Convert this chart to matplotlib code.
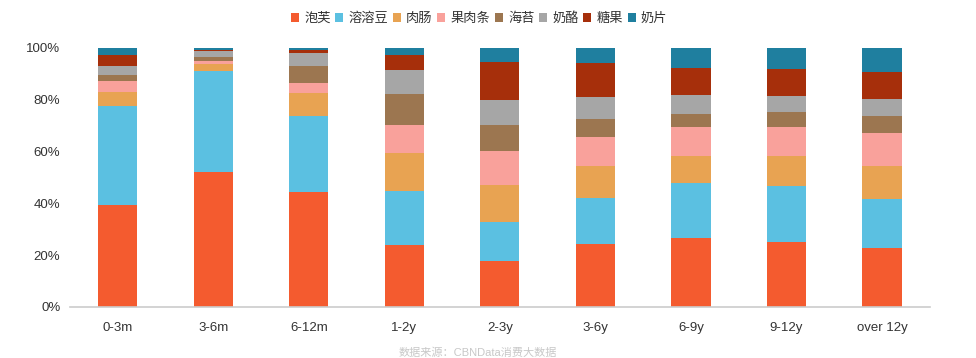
import matplotlib
matplotlib.use("Agg")
import matplotlib.pyplot as plt
import numpy as np

plt.rcParams['font.family'] = ['Liberation Sans', 'Noto Sans CJK SC', 'DejaVu Sans']

categories = ["0-3m", "3-6m", "6-12m", "1-2y", "2-3y", "3-6y", "6-9y", "9-12y", "over 12y"]
series_names = ["泡芙", "溶溶豆", "肉肠", "果肉条", "海苔", "奶酪", "糖果", "奶片"]

paofu     = [39.5, 52.2, 44.4, 24.1, 17.9, 24.4, 26.6, 25.2, 22.8]
rongrong  = [38.2, 39.0, 29.3, 20.8, 15.0, 17.8, 21.2, 21.6, 18.9]
rouchang  = [5.3, 2.7, 8.8, 14.7, 14.2, 12.2, 10.5, 11.5, 12.7]
guoroutiao= [4.3, 1.2, 4.0, 10.7, 13.1, 11.2, 11.2, 11.2, 12.8]
haitai    = [2.4, 1.5, 6.6, 11.9, 10.1, 7.1, 5.0, 5.8, 6.5]
nailao    = [3.5, 2.2, 5.0, 9.3, 9.6, 8.4, 7.4, 6.2, 6.6]
tangguo   = [4.1, 0.5, 1.1, 5.8, 14.7, 13.1, 10.4, 10.4, 10.4]
naipian   = [2.7, 0.7, 0.8, 2.7, 5.4, 5.8, 7.7, 8.1, 9.3]

series = [paofu, rongrong, rouchang, guoroutiao, haitai, nailao, tangguo, naipian]
colors = ["#F45B2F", "#5BC0E1", "#E8A352", "#F9A19B", "#9C7650", "#A6A6A6", "#A62F0B", "#1F7F9F"]

fig = plt.figure(figsize=(9.76, 3.58), dpi=100)
ax = fig.add_axes([0.0717, 0.1425, 0.881, 0.7235])

x = np.arange(len(categories))
bottom = np.zeros(len(categories))
handles = []
for name, vals, c in zip(series_names, series, colors):
    v = np.array(vals)
    b = ax.bar(x, v, 0.41, bottom=bottom, color=c, label=name, linewidth=0)
    handles.append(b)
    bottom += v

ax.set_xlim(-0.5, len(categories) - 0.5)
ax.set_ylim(0, 100)
ax.set_yticks([0, 20, 40, 60, 80, 100])
ax.set_yticklabels([f"{t}%" for t in [0, 20, 40, 60, 80, 100]])
ax.set_xticks(x)
ax.set_xticklabels(categories)
for s in ["top", "right", "left"]:
    ax.spines[s].set_visible(False)
ax.spines["bottom"].set_color("#CCCCCC")
ax.spines["bottom"].set_linewidth(1.2)
ax.tick_params(axis="both", length=0, labelsize=9.5, colors="#333333")
ax.tick_params(axis="x", pad=11)
ax.tick_params(axis="y", pad=7)

fig.legend(handles=handles, labels=series_names, loc="center", bbox_to_anchor=(0.491, 0.948),
           ncol=8, frameon=False, fontsize=9.5, handlelength=0.6, handleheight=0.6,
           handletextpad=0.4, columnspacing=0.35, labelcolor="#333333")

fig.text(0.49, 0.014, "数据来源：CBNData消费大数据", ha="center", va="center",
         fontsize=8, color="#C8C8C8")

fig.savefig("out.png", dpi=100)
